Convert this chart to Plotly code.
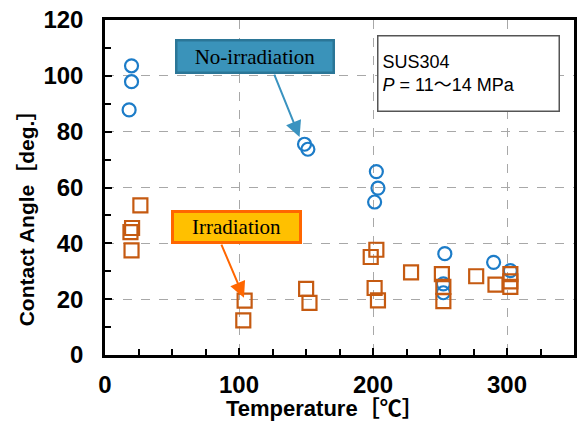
import plotly.graph_objects as go

# No-irradiation (blue circles)
no_irr_T = [19.8, 19.8, 18.0, 148.9, 151.4, 202.5, 203.7, 201.2, 253.6, 252.5, 252.5, 290.0, 302.5]
no_irr_A = [103.6, 97.9, 87.8, 75.5, 73.7, 65.7, 59.8, 54.8, 36.3, 25.5, 22.3, 33.2, 30.2]

# Irradiation (orange squares)
irr_T = [26.4, 20.2, 19.0, 19.8, 104.2, 103.2, 150.1, 152.6, 202.5, 198.3, 201.2, 203.7,
         228.4, 251.4, 252.5, 252.5, 277.0, 291.4, 302.5, 302.5, 302.5]
irr_A = [53.6, 45.5, 44.0, 37.5, 19.5, 12.4, 23.7, 18.7, 37.7, 35.1, 24.0, 19.6,
         29.6, 29.0, 24.4, 19.3, 28.2, 25.2, 29.0, 26.4, 24.4]

x_ticks = [0, 100, 200, 300]
y_ticks = [0, 20, 40, 60, 80, 100, 120]

BLUE = "#1c7cc8"
ORANGE = "#c55a11"
FONT = "Liberation Sans, Arial, Noto Sans CJK JP"

fig = go.Figure()
fig.add_trace(go.Scatter(
    x=no_irr_T, y=no_irr_A, mode="markers", name="No-irradiation",
    marker=dict(symbol="circle-open", size=13, color=BLUE, line=dict(width=2.2, color=BLUE)),
))
fig.add_trace(go.Scatter(
    x=irr_T, y=irr_A, mode="markers", name="Irradiation",
    marker=dict(symbol="square-open", size=14, color=ORANGE, line=dict(width=2.2, color=ORANGE)),
))

axis_common = dict(
    showline=True, linecolor="black", linewidth=2.5, mirror=True,
    ticks="inside", ticklen=7, tickwidth=1.5, tickcolor="black",
    showgrid=True, gridcolor="#a8a8a8", griddash="dash", gridwidth=1,
    zeroline=False,
    tickfont=dict(family=FONT, size=24, color="black", weight="bold"),
)

fig.update_xaxes(
    range=[0, 350], tickvals=x_ticks, ticktext=[str(v) for v in x_ticks],
    ticklabelstandoff=6,
    minor=dict(dtick=25, tick0=0, ticks="inside", ticklen=6, tickwidth=1.5, tickcolor="black", showgrid=False),
    **axis_common,
)
fig.update_yaxes(
    range=[0, 120], tickvals=y_ticks, ticktext=[str(v) for v in y_ticks],
    ticklabelstandoff=14,
    minor=dict(dtick=10, tick0=0, ticks="inside", ticklen=6, tickwidth=1.5, tickcolor="black", showgrid=False),
    **axis_common,
)

annotations = [
    # axis titles
    dict(text="Temperature［℃］", xref="paper", yref="paper", x=0.47, y=-0.16,
         xanchor="center", yanchor="middle", showarrow=False,
         font=dict(family=FONT, size=22, color="black", weight="bold")),
    dict(text="Contact Angle［deg.］", xref="paper", yref="paper", x=-0.167, y=0.425,
         xanchor="center", yanchor="middle", showarrow=False, textangle=-90,
         font=dict(family=FONT, size=21, color="black", weight="bold")),
    # info box
    dict(text="SUS304<br><i>P</i> = 11～14 MPa", xref="x", yref="y", x=271.5, y=101.0,
         xanchor="center", yanchor="middle", showarrow=False, align="left",
         width=172, height=66, borderpad=4, bgcolor="white", bordercolor="#555555", borderwidth=1.5,
         font=dict(family=FONT, size=18, color="black")),
    # arrows
    dict(text="", x=145.2, y=78.1, ax=125.9, ay=101.0, xref="x", yref="y", axref="x", ayref="y",
         showarrow=True, arrowhead=2, arrowsize=1.6, arrowwidth=2, arrowcolor="#3a93c0", standoff=0),
    dict(text="", x=103.7, y=20.5, ax=86.4, ay=40.1, xref="x", yref="y", axref="x", ayref="y",
         showarrow=True, arrowhead=2, arrowsize=1.6, arrowwidth=2, arrowcolor="#ff6600", standoff=0),
    # label boxes
    dict(text="No-irradiation", xref="x", yref="y", x=112.1, y=107.1,
         xanchor="center", yanchor="middle", showarrow=False,
         width=153, height=28, bgcolor="#3a93ba", bordercolor="#2b7697", borderwidth=2.5,
         font=dict(family="Liberation Serif, Times New Roman", size=21, color="black")),
    dict(text="Irradiation", xref="x", yref="y", x=97.9, y=45.7,
         xanchor="center", yanchor="middle", showarrow=False,
         width=123, height=26, bgcolor="#ffc000", bordercolor="#ff6600", borderwidth=3,
         font=dict(family="Liberation Serif, Times New Roman", size=21, color="black")),
]

fig.update_layout(
    width=579, height=425,
    margin=dict(l=105, r=2, t=20, b=70),
    plot_bgcolor="white", paper_bgcolor="white",
    showlegend=False,
    annotations=annotations,
)

fig.write_html("out.html")
